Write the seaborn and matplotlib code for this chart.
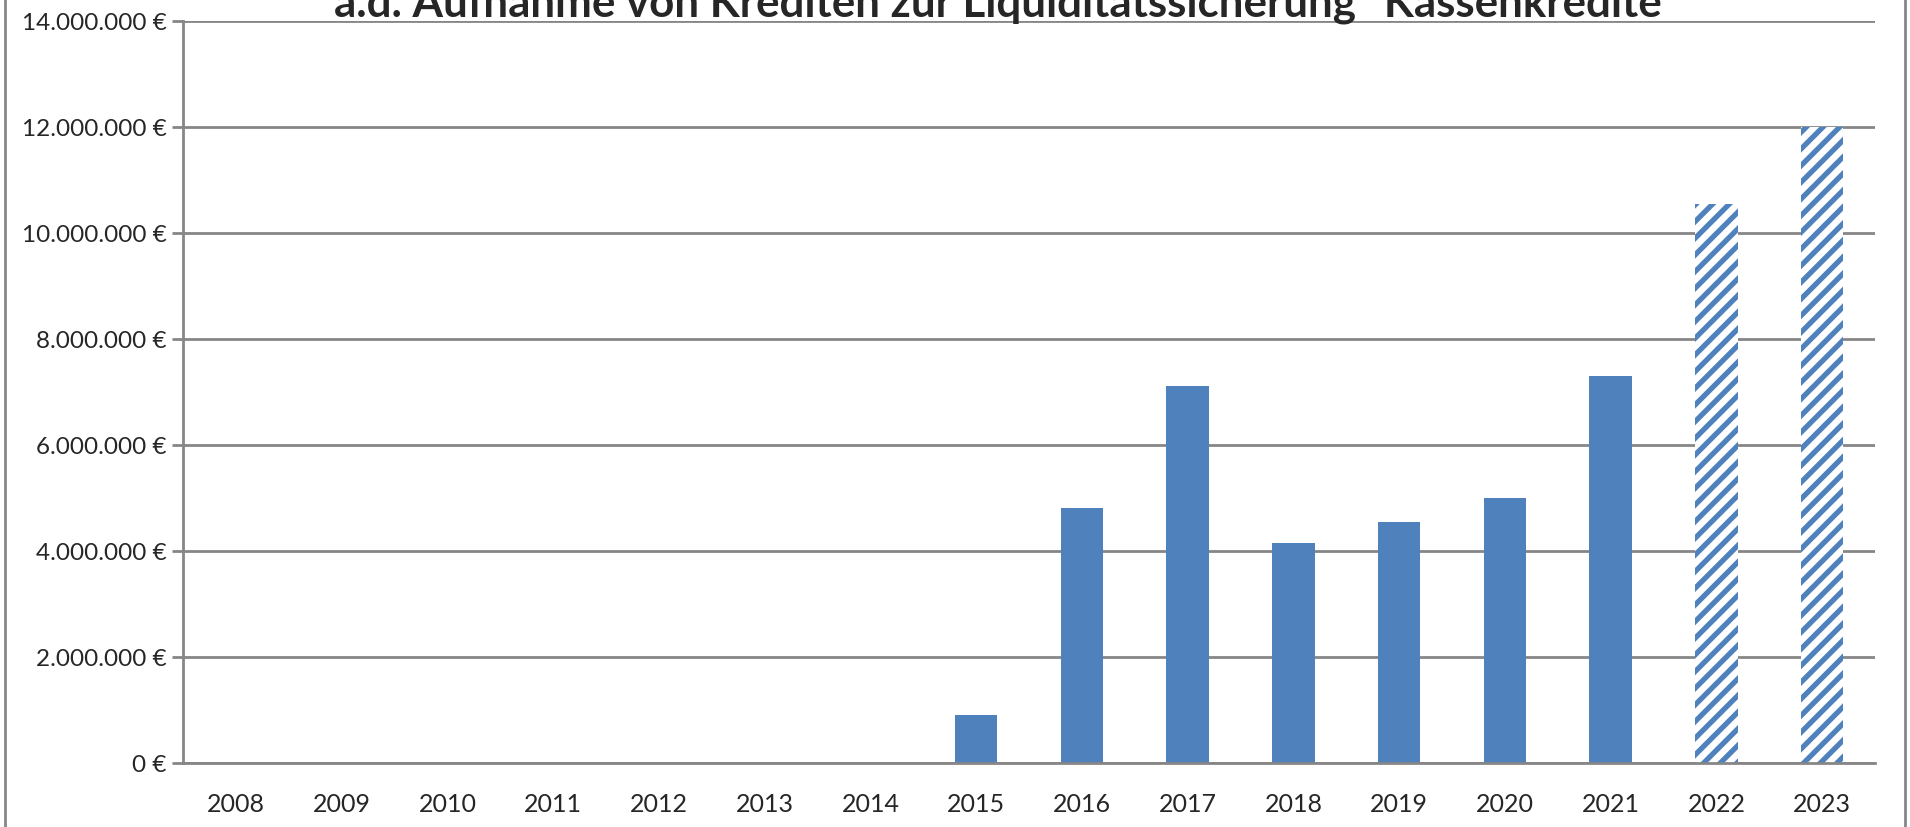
import numpy as np
import pandas as pd
import seaborn as sns
import matplotlib
matplotlib.use('Agg')
from matplotlib import pyplot as plt
from matplotlib.ticker import FuncFormatter, MultipleLocator
from matplotlib.lines import Line2D

years = ['2008', '2009', '2010', '2011', '2012', '2013', '2014', '2015',
         '2016', '2017', '2018', '2019', '2020', '2021', '2022', '2023']
kassenkredite = [0, 0, 0, 0, 0, 0, 0, 905000,
                 4800000, 7110000, 4150000, 4550000, 4990000, 7300000, 10550000, 12000000]
planned_years = ['2022', '2023']  # schraffiert = Planwerte

title = 'a.d. Aufnahme von Krediten zur Liquiditätssicherung "Kassenkredite"'

sns.set_style('white')
plt.rcParams['font.family'] = ['Lato', 'DejaVu Sans']
plt.rcParams['hatch.linewidth'] = 3.8

blue = '#4F81BD'
grey = '#868686'

df = pd.DataFrame({'Jahr': years, 'Betrag': kassenkredite})

fig = plt.figure(figsize=(19.1, 8.28), dpi=100)
ax = fig.add_axes([183 / 1910, 64 / 828, (1875 - 183) / 1910, (764 - 21.7) / 828])

sns.barplot(data=df, x='Jahr', y='Betrag', color=blue, saturation=1, width=0.4, ax=ax)

for bar, yr in zip(ax.patches, years):
    bar.set_linewidth(0)
    if yr in planned_years:
        bar.set_facecolor('white')
        bar.set_edgecolor(blue)
        bar.set_hatch('//')

ax.set_ylim(0, 14000000)
ax.set_xlim(-0.5, len(years) - 0.5)
ax.yaxis.set_major_locator(MultipleLocator(2000000))
ax.yaxis.set_major_formatter(FuncFormatter(lambda v, p: '{:,.0f} €'.format(v).replace(',', '.')))
ax.grid(axis='y', color=grey, linewidth=2)
ax.set_axisbelow(True)

# Ticks zwischen den Kategorien wie in Excel
ax.set_xticks(np.arange(len(years)))
ax.set_xticks(np.arange(-0.5, len(years), 1), minor=True)
ax.tick_params(axis='x', which='major', length=0, labelsize=18, pad=21)
ax.tick_params(axis='x', which='minor', length=8, width=2, color=grey)
ax.tick_params(axis='y', length=8, width=2, color=grey, labelsize=17.5, pad=4, left=True)
ax.set_xlabel('')
ax.set_ylabel('')

for s in ['top', 'right']:
    ax.spines[s].set_visible(False)
for s in ['left', 'bottom']:
    ax.spines[s].set_color(grey)
    ax.spines[s].set_linewidth(2)

fig.text(0.527, 1 - 17 / 828, title, ha='center', va='baseline',
         fontsize=31.6, fontweight='bold')

# Rahmen des Diagramms
for xp in [5 / 1910, 1905 / 1910]:
    fig.add_artist(Line2D([xp, xp], [0, 1], color=grey, linewidth=2))

fig.savefig('out.png', dpi=100)
